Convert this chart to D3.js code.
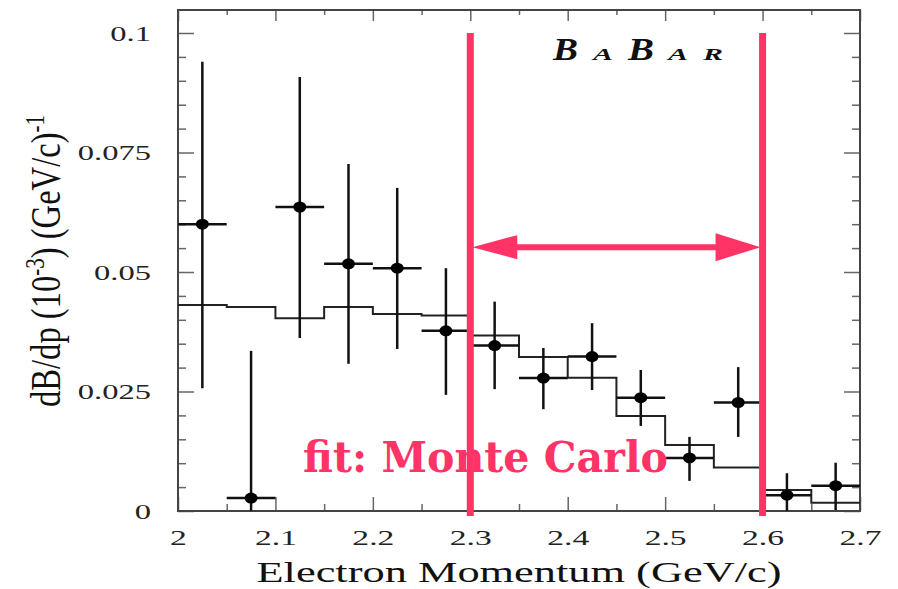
<!DOCTYPE html>
<html>
<head>
<meta charset="utf-8">
<script src="https://cdn.jsdelivr.net/npm/d3@7"></script>
<style>
  html, body { margin: 0; padding: 0; background: #fff; }
  svg { display: block; }
</style>
</head>
<body>
<div id="chart"></div>
<script>
// bin centres (GeV/c) and measured dB/dp with asymmetric error limits
const binCentres = [2.025, 2.075, 2.125, 2.175, 2.225, 2.275, 2.325, 2.375, 2.425, 2.475, 2.525, 2.575, 2.625, 2.675]
const values  = [0.0600, 0.0027, 0.0636, 0.0517, 0.0508, 0.0377, 0.0346, 0.0278, 0.0323, 0.0237, 0.0111, 0.0227, 0.0033, 0.0053]
const errLow  = [0.0257, 0.0000, 0.0362, 0.0308, 0.0339, 0.0243, 0.0255, 0.0213, 0.0253, 0.0178, 0.0063, 0.0155, 0.0000, 0.0002]
const errHigh = [0.0940, 0.0335, 0.0908, 0.0726, 0.0676, 0.0508, 0.0438, 0.0341, 0.0393, 0.0295, 0.0155, 0.0301, 0.0079, 0.0101]
// Monte Carlo histogram, one value per bin
const mcValues = [0.0431, 0.0427, 0.0403, 0.0427, 0.0412, 0.0409, 0.0367, 0.0322, 0.0279, 0.0199, 0.0138, 0.0091, 0.0044, 0.0017]
const binWidth = 0.05

const xTicks = [2, 2.1, 2.2, 2.3, 2.4, 2.5, 2.6, 2.7]
const xTickLabels = ["2", "2.1", "2.2", "2.3", "2.4", "2.5", "2.6", "2.7"]
const xMinor = [2.05, 2.15, 2.25, 2.35, 2.45, 2.55, 2.65]
const yTicks = [0, 0.025, 0.05, 0.075, 0.1]
const yTickLabels = ["0", "0.025", "0.05", "0.075", "0.1"]
const yMinor = [0.005, 0.01, 0.015, 0.02, 0.03, 0.035, 0.04, 0.045, 0.055, 0.06, 0.065, 0.07, 0.08, 0.085, 0.09, 0.095]

// fit window annotation
const fitRange = [2.3, 2.6]
const fitLineTop = 0.1
const arrowLevel = 0.0552
const fitLabel = "fit: Monte Carlo"

const W = 898, H = 589
const red = "#ff3366"

const x = d3.scaleLinear().domain([2, 2.7]).range([178, 860])
const y = d3.scaleLinear().domain([0, 0.1]).range([511, 33])
const yTop = y.invert(10)

const svg = d3.select("#chart").append("svg")
    .attr("width", W).attr("height", H)
    .attr("viewBox", [0, 0, W, H])

// ticks (inward on all four sides)
const tickStyle = g => {
    g.select(".domain").remove()
    g.selectAll(".tick line").attr("stroke", "#666").attr("stroke-width", 1.5)
}

svg.append("g").attr("transform", `translate(${x(2)},0)`)
    .call(d3.axisLeft(y).tickValues(yMinor).tickSize(-8).tickFormat(""))
    .call(tickStyle)
svg.append("g").attr("transform", `translate(${x(2.7)},0)`)
    .call(d3.axisRight(y).tickValues(yMinor).tickSize(-8).tickFormat(""))
    .call(tickStyle)
svg.append("g").attr("transform", `translate(${x(2.7)},0)`)
    .call(d3.axisRight(y).tickValues(yTicks).tickSize(-16).tickFormat(""))
    .call(tickStyle)
svg.append("g").attr("transform", `translate(0,${y(yTop)})`)
    .call(d3.axisTop(x).tickValues(xTicks).tickSize(-11).tickFormat(""))
    .call(tickStyle)
svg.append("g").attr("transform", `translate(0,${y(yTop)})`)
    .call(d3.axisTop(x).tickValues(xMinor).tickSize(-5).tickFormat(""))
    .call(tickStyle)
svg.append("g").attr("transform", `translate(0,${y(0)})`)
    .call(d3.axisBottom(x).tickValues(xMinor).tickSize(-7).tickFormat(""))
    .call(tickStyle)

const yAxis = svg.append("g").attr("transform", `translate(${x(2)},0)`)
    .call(d3.axisLeft(y).tickValues(yTicks).tickSize(-16).tickFormat((d, i) => yTickLabels[i]))
    .call(tickStyle)
yAxis.selectAll(".tick text")
    .attr("font-family", "Liberation Serif, Times New Roman, serif")
    .attr("font-size", 21)
    .attr("fill", "#222")
    .attr("x", -27 / 1.55)
    .attr("dy", "0.34em")
    .attr("transform", "scale(1.55,1)")

const xAxis = svg.append("g").attr("transform", `translate(0,${y(0)})`)
    .call(d3.axisBottom(x).tickValues(xTicks).tickSize(-14).tickFormat((d, i) => xTickLabels[i]))
    .call(tickStyle)
xAxis.selectAll(".tick text")
    .attr("font-family", "Liberation Serif, Times New Roman, serif")
    .attr("font-size", 21)
    .attr("fill", "#222")
    .attr("y", 34)
    .attr("dy", 0)
    .attr("transform", "scale(1.6,1)")

// frame
svg.append("rect")
    .attr("x", x(2)).attr("y", y(yTop))
    .attr("width", x(2.7) - x(2)).attr("height", y(0) - y(yTop))
    .attr("fill", "none").attr("stroke", "#444").attr("stroke-width", 2)

// Monte Carlo histogram
const histPts = mcValues.map((v, i) => [binCentres[i] - binWidth / 2, v])
histPts.push([binCentres[binCentres.length - 1] + binWidth / 2, mcValues[mcValues.length - 1]])
svg.append("path")
    .datum(histPts)
    .attr("fill", "none").attr("stroke", "#222").attr("stroke-width", 2)
    .attr("d", d3.line().x(d => x(d[0])).y(d => y(d[1])).curve(d3.curveStepAfter))

// data points with error bars
const pts = svg.append("g").selectAll("g")
    .data(binCentres.map((c, i) => ({ c, v: values[i], lo: errLow[i], hi: errHigh[i] })))
    .join("g")
pts.append("line")
    .attr("x1", d => x(d.c)).attr("x2", d => x(d.c))
    .attr("y1", d => y(d.lo)).attr("y2", d => y(d.hi))
    .attr("stroke", "#111").attr("stroke-width", 2.5)
pts.append("line")
    .attr("x1", d => x(d.c - binWidth / 2)).attr("x2", d => x(d.c + binWidth / 2))
    .attr("y1", d => y(d.v)).attr("y2", d => y(d.v))
    .attr("stroke", "#111").attr("stroke-width", 2.5)
pts.append("ellipse")
    .attr("cx", d => x(d.c)).attr("cy", d => y(d.v))
    .attr("rx", 6.5).attr("ry", 5.5)
    .attr("fill", "#000")

// BaBar logo
const logo = [
    { t: "B", x: 553, w: 25, s: 31 },
    { t: "A", x: 593, w: 20, s: 17 },
    { t: "B", x: 628, w: 26, s: 31 },
    { t: "A", x: 668, w: 20, s: 17 },
    { t: "R", x: 703, w: 20, s: 17 }
]
svg.append("g").selectAll("text")
    .data(logo)
    .join("text")
    .attr("x", d => d.x).attr("y", 60)
    .attr("font-family", "Liberation Serif, Times New Roman, serif")
    .attr("font-weight", "bold").attr("font-style", "italic")
    .attr("font-size", d => d.s)
    .attr("textLength", d => d.w).attr("lengthAdjust", "spacingAndGlyphs")
    .attr("fill", "#111")
    .text(d => d.t)

// axis titles
svg.append("text")
    .attr("x", (x(2) + x(2.7)) / 2).attr("y", 582)
    .attr("text-anchor", "middle")
    .attr("font-family", "Liberation Serif, Times New Roman, serif")
    .attr("font-size", 30)
    .attr("fill", "#111")
    .attr("textLength", 525).attr("lengthAdjust", "spacingAndGlyphs")
    .text("Electron Momentum (GeV/c)")

const yTitle = svg.append("text")
    .attr("transform", "translate(60,261) scale(1.5,1) rotate(-90)")
    .attr("text-anchor", "middle")
    .attr("font-family", "Liberation Serif, Times New Roman, serif")
    .attr("font-size", 28)
    .attr("fill", "#111")
    .attr("textLength", 292).attr("lengthAdjust", "spacingAndGlyphs")
yTitle.append("tspan").text("dB/dp (10")
yTitle.append("tspan").attr("dy", -11).attr("font-size", 18).text("-3")
yTitle.append("tspan").attr("dy", 11).text(") (GeV/c)")
yTitle.append("tspan").attr("dy", -11).attr("font-size", 18).text("-1")

// fit window overlay
const ann = svg.append("g")
fitRange.forEach(v => {
    ann.append("line")
        .attr("x1", x(v)).attr("x2", x(v))
        .attr("y1", y(fitLineTop)).attr("y2", y(0) + 5)
        .attr("stroke", red).attr("stroke-width", 7)
})
const ax0 = x(fitRange[0]) + 2, ax1 = x(fitRange[1]) - 2, ay = y(arrowLevel)
ann.append("line")
    .attr("x1", ax0 + 40).attr("x2", ax1 - 40)
    .attr("y1", ay).attr("y2", ay)
    .attr("stroke", red).attr("stroke-width", 6)
ann.append("path")
    .attr("d", `M${ax0},${ay}L${ax0 + 45},${ay - 12}L${ax0 + 45},${ay + 12}Z`)
    .attr("fill", red)
ann.append("path")
    .attr("d", `M${ax1},${ay}L${ax1 - 45},${ay - 14}L${ax1 - 45},${ay + 14}Z`)
    .attr("fill", red)

ann.append("text")
    .attr("x", x(2.1283)).attr("y", y(0.0082))
    .attr("font-family", "DejaVu Serif, serif")
    .attr("font-weight", "bold")
    .attr("font-size", 42)
    .attr("fill", red)
    .attr("textLength", 365).attr("lengthAdjust", "spacingAndGlyphs")
    .text(fitLabel)
</script>
</body>
</html>
